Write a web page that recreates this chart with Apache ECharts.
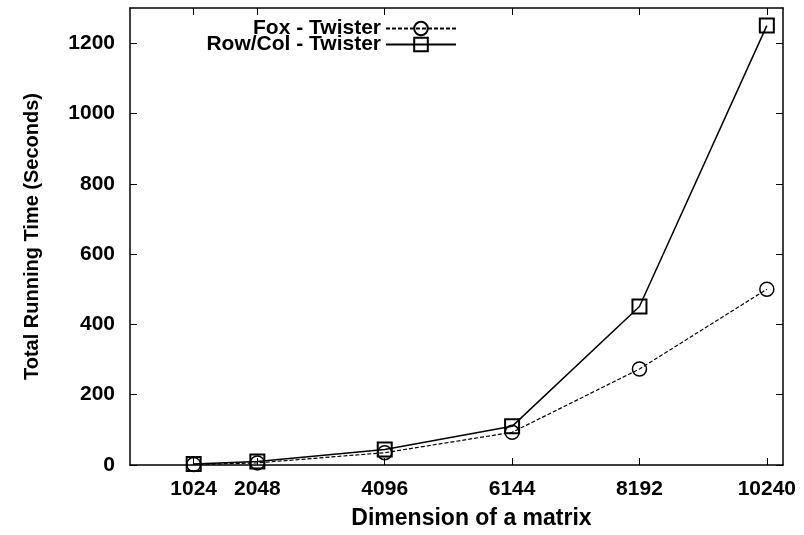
<!DOCTYPE html>
<html>
<head>
<meta charset="utf-8">
<script src="https://cdn.jsdelivr.net/npm/echarts@6/dist/echarts.min.js"></script>
<style>
html, body { margin: 0; padding: 0; background: #fff; }
#main { width: 804px; height: 535px; }
</style>
</head>
<body>
<div id="main"></div>
<script>
// 数据
var dims = [1024, 2048, 4096, 6144, 8192, 10240];
var foxTwister = [1.5, 6, 35, 93, 273, 500];
var rowColTwister = [2.5, 10, 44, 110, 451, 1250];
var xTicks = [1024, 2048, 4096, 6144, 8192, 10240];
var yTicks = [0, 200, 400, 600, 800, 1000, 1200];

var font = 'Liberation Sans, Arial, sans-serif';

function pairs(xs, ys) {
    var out = [];
    for (var i = 0; i < xs.length; i++) {
        out.push([xs[i], ys[i]]);
    }
    return out;
}

function plain(v) {
    return String(v);
}

function legendBox(name, top) {
    return {
        orient: 'vertical',
        right: 347,
        top: top,
        padding: 0,
        itemGap: 0,
        align: 'right',
        itemWidth: 70,
        itemHeight: 17,
        textStyle: { fontFamily: font, fontSize: 21, fontWeight: 'bold', color: '#000' },
        data: [name]
    };
}

var myChart = echarts.init(document.getElementById('main'));

var axisLine = { show: true, onZero: false, lineStyle: { color: '#000', width: 1.5 } };

var option = {
    backgroundColor: '#fff',
    animation: false,
    grid: { left: 130, right: 21, top: 8, bottom: 70 },
    legend: [
        legendBox('Fox - Twister', 18),
        legendBox('Row/Col - Twister', 34)
    ],
    xAxis: [
        {
            type: 'value',
            min: 0,
            max: 10500,
            position: 'bottom',
            axisLine: axisLine,
            axisTick: { show: true, inside: true, length: 7, customValues: xTicks, lineStyle: { color: '#000', width: 1 } },
            axisLabel: { customValues: xTicks, formatter: plain, margin: 14, fontFamily: font, fontSize: 21, fontWeight: 'bold', color: '#000' },
            splitLine: { show: false },
            name: 'Dimension of a matrix',
            nameLocation: 'middle',
            nameGap: 42,
            nameTextStyle: { fontFamily: font, fontSize: 23, fontWeight: 'bold', color: '#000', padding: [0, 0, 0, 30] }
        },
        {
            type: 'value',
            min: 0,
            max: 10500,
            position: 'top',
            axisLine: axisLine,
            axisTick: { show: true, inside: true, length: 7, customValues: xTicks, lineStyle: { color: '#000', width: 1 } },
            axisLabel: { show: false },
            splitLine: { show: false }
        }
    ],
    yAxis: [
        {
            type: 'value',
            min: 0,
            max: 1300,
            position: 'left',
            axisLine: axisLine,
            axisTick: { show: true, inside: true, length: 7, customValues: yTicks, lineStyle: { color: '#000', width: 1 } },
            axisLabel: { customValues: yTicks, formatter: plain, margin: 15, fontFamily: font, fontSize: 21, fontWeight: 'bold', color: '#000' },
            splitLine: { show: false },
            name: 'Total Running Time (Seconds)',
            nameLocation: 'middle',
            nameGap: 88,
            nameTextStyle: { fontFamily: font, fontSize: 20, fontWeight: 'bold', color: '#000' }
        },
        {
            type: 'value',
            min: 0,
            max: 1300,
            position: 'right',
            axisLine: axisLine,
            axisTick: { show: true, inside: true, length: 7, customValues: yTicks, lineStyle: { color: '#000', width: 1 } },
            axisLabel: { show: false },
            splitLine: { show: false }
        }
    ],
    series: [
        {
            name: 'Fox - Twister',
            type: 'line',
            data: pairs(dims, foxTwister),
            symbol: 'circle',
            symbolSize: 14,
            lineStyle: { color: '#000', width: 1.2, type: [4, 2] },
            itemStyle: { color: 'rgba(0,0,0,0)', borderColor: '#000', borderWidth: 1.5 },
            z: 3
        },
        {
            name: 'Row/Col - Twister',
            type: 'line',
            data: pairs(dims, rowColTwister),
            symbol: 'rect',
            symbolSize: 14,
            lineStyle: { color: '#000', width: 1.5, type: 'solid' },
            itemStyle: { color: 'rgba(0,0,0,0)', borderColor: '#000', borderWidth: 2 },
            z: 2
        }
    ]
};

myChart.setOption(option);
</script>
</body>
</html>
